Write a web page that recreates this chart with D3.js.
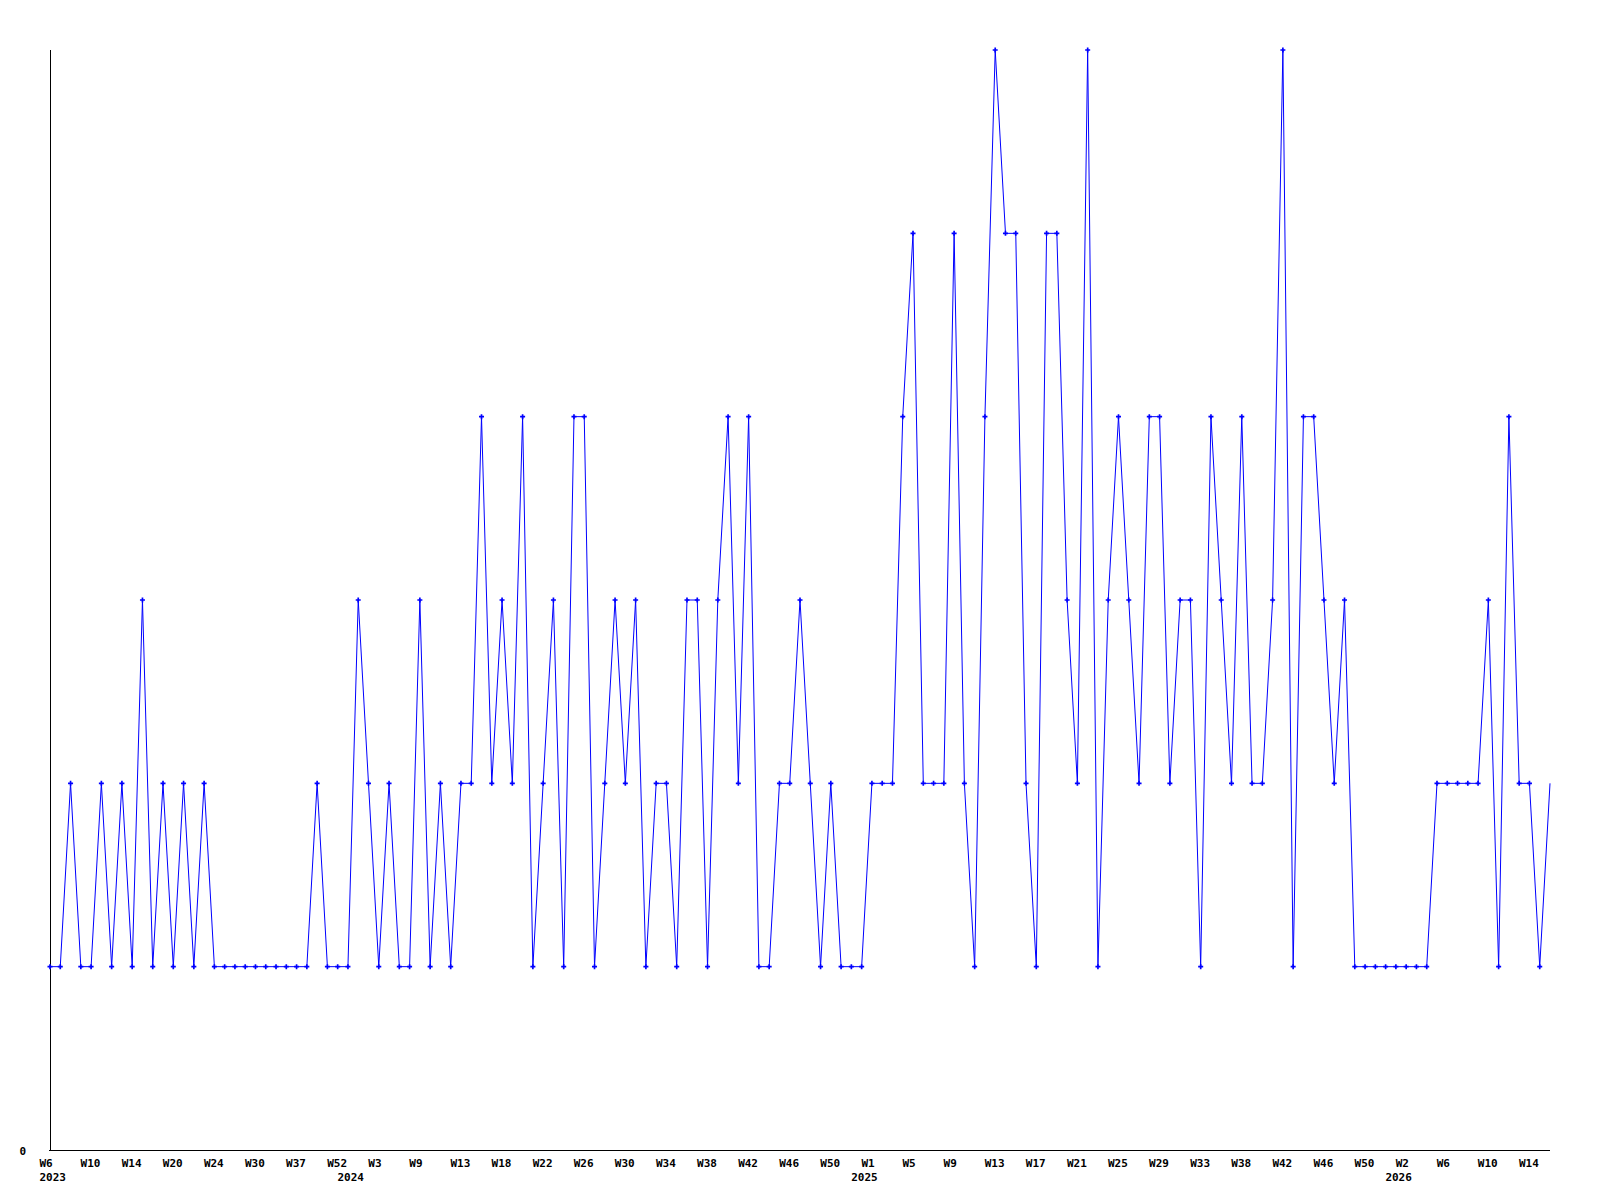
<!DOCTYPE html>
<html><head><meta charset="utf-8">
<script src="https://cdn.jsdelivr.net/npm/d3@7"></script>
<style>html,body{margin:0;padding:0;background:#fff;}svg{display:block;}</style>
</head><body>
<script>
// Weekly values (ordinal points)
const values = [
  1,1,2,1,1,2,1,2,1,3,1,2,1,2,1,2,1,1,1,1,1,1,1,1,1,
  1,2,1,1,1,3,2,1,2,1,1,3,1,2,1,2,2,4,2,3,2,4,1,2,
  3,1,4,4,1,2,3,2,3,1,2,2,1,3,3,1,3,4,2,4,1,1,2,2,3,
  2,1,2,1,1,1,2,2,2,4,5,2,2,2,5,2,1,4,6,5,5,2,1,5,
  5,3,2,6,1,3,4,3,2,4,4,2,3,3,1,4,3,2,4,2,2,3,6,1,
  4,4,3,2,3,1,1,1,1,1,1,1,1,2,2,2,2,2,3,1,4,2,2,1,2
];
// Tick labels, one for every 4th point
const tickLabels = ["W6","W10","W14","W20","W24","W30","W37","W52","W3","W9","W13","W18",
  "W22","W26","W30","W34","W38","W42","W46","W50","W1","W5","W9","W13","W17","W21",
  "W25","W29","W33","W38","W42","W46","W50","W2","W6","W10","W14"];
const tickStep = 4;
const years = ["2023","2024","2025","2026"];
const yearStartIndex = [0,29,79,131];
const yTickLabels = ["0"];

const W = 1600, H = 1200;
const margin = {left:50, right:50, top:50, bottom:50};
const svg = d3.select("body").append("svg").attr("width",W).attr("height",H);

const x = d3.scalePoint().domain(d3.range(values.length)).range([margin.left, W - margin.right]);
const y = d3.scaleLinear().domain([0,6]).range([H - margin.bottom, margin.top]);

const font = "'DejaVu Sans Mono', monospace";
const fs = "11px";

// axes lines
svg.append("line").attr("x1",margin.left).attr("x2",margin.left)
  .attr("y1",y(6)).attr("y2",y(0)).attr("stroke","#000").attr("stroke-width",1).attr("shape-rendering","crispEdges");
svg.append("line").attr("x1",margin.left-1).attr("x2",W-margin.right)
  .attr("y1",y(0)).attr("y2",y(0)).attr("stroke","#000").attr("stroke-width",1).attr("shape-rendering","crispEdges");

// y label "0"
svg.append("text").attr("x",19.5).attr("y",y(0)+5).text(yTickLabels[0])
  .attr("font-family",font).attr("font-weight","bold").attr("font-size",fs).attr("fill","#000");

// x tick labels (left aligned)
const tickIdx = tickLabels.map((d,i)=>i*tickStep);
svg.append("g").selectAll("text").data(tickIdx).join("text")
  .attr("x",d=>x(d)-10.5).attr("y",y(0)+16.5)
  .text((d,i)=>tickLabels[i])
  .attr("font-family",font).attr("font-weight","bold").attr("font-size",fs).attr("fill","#000");

svg.append("g").selectAll("text").data(years).join("text")
  .attr("x",(d,i)=>x(yearStartIndex[i])-10.5).attr("y",y(0)+31)
  .text(d=>d)
  .attr("font-family",font).attr("font-weight","bold").attr("font-size",fs).attr("fill","#000");

// line
const line = d3.line().x((d,i)=>x(i)).y(d=>y(d));
svg.append("path").datum(values).attr("d",line).attr("fill","none")
  .attr("stroke","#0000ff").attr("stroke-width",1);

// markers (small crosses), except last point
const sym = d3.symbol().type(d3.symbolCross).size(14);
svg.append("g").selectAll("path").data(values.slice(0, values.length-1)).join("path")
  .attr("transform",(d,i)=>`translate(${x(i)},${y(d)})`)
  .attr("d",sym).attr("fill","#0000ff");
</script>
</body></html>
